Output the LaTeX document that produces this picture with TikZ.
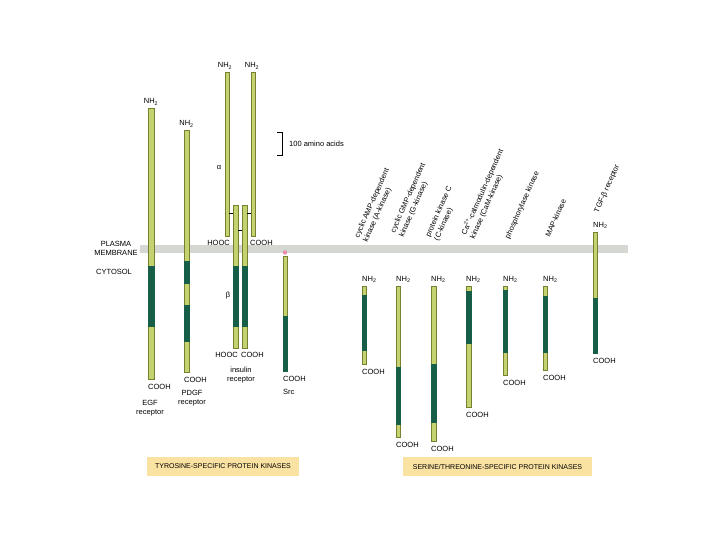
\documentclass[tikz,border=0pt]{standalone}
\usepackage{fontspec}
\setmainfont{Liberation Sans}
\definecolor{lg}{RGB}{197,210,112}
\definecolor{lgo}{RGB}{118,128,48}
\definecolor{dg}{RGB}{22,94,72}
\definecolor{mem}{RGB}{213,215,211}
\definecolor{tag}{RGB}{250,227,162}
\definecolor{pinkm}{RGB}{232,140,170}
\newcommand\kbar[5]{\node[barnode, minimum width={(#3-#2)*1pt}, minimum height={(#5-#4)*1pt}] (#1) at ({(#2+#3)/2},{(#4+#5)/2}) {};}
\newcommand\dseg[3]{\filldraw[dk] (#1.west |- 0,#2) rectangle (#1.east |- 0,#3);}
\begin{document}
\begin{tikzpicture}[x=1pt,y=-1pt,
 barnode/.style={draw=lgo, fill=lg, line width=0.5pt, inner sep=0pt, outer sep=0pt, rectangle},
 dk/.style={fill=dg, draw=dg, line width=0.5pt},
 lab/.style={font=\fontsize{7.5}{8.5}\selectfont, inner sep=0pt},
 rlab/.style={font=\fontsize{7.5}{9.5}\selectfont, inner sep=0pt, rotate=66, anchor=south west, align=left},
 tagbox/.style={fill=tag, minimum height=19pt, inner sep=0pt, font=\fontsize{7}{8}\selectfont},
 bond/.style={line width=0.7pt, black}]
\useasboundingbox (0,0) rectangle (720,540);

% membrane
\fill[mem] (140,245) rectangle (628,253);
\node[lab, align=center] (pm) at (116,248.5) {PLASMA\\MEMBRANE};
\node[lab] (cyt) at (114,272) {CYTOSOL};

% ---------- tyrosine kinases ----------
% EGF receptor
\kbar{egf}{148}{154}{108}{379}
\dseg{egf}{266}{326}
\node[lab, anchor=base] at ([yshift=4pt]egf.north) {NH\textsubscript{2}};
\node[lab, anchor=base west] at ([yshift=-10pt]egf.south west) {COOH};
\node[lab, align=center] (egfl) at (150,408) {EGF\\receptor};

% PDGF receptor
\kbar{pdgf}{184}{189}{130}{372}
\dseg{pdgf}{261}{283}
\dseg{pdgf}{305}{341}
\node[lab, anchor=base] at ([yshift=4pt]pdgf.north) {NH\textsubscript{2}};
\node[lab, anchor=base west] at ([yshift=-10pt]pdgf.south west) {COOH};
\node[lab, align=center] (pdgfl) at (192,398) {PDGF\\receptor};

% insulin receptor
\kbar{a1}{225}{229}{72}{236}
\kbar{a2}{251}{255}{72}{236}
\kbar{b1}{233}{238}{205}{348}
\kbar{b2}{242}{247}{205}{348}
\dseg{b1}{266}{326}
\dseg{b2}{266}{326}
\draw[bond] (a1.east |- 0,213) -- (b1.west |- 0,213);
\draw[bond] (b2.east |- 0,213) -- (a2.west |- 0,213);
\draw[bond] (b1.east |- 0,230) -- (b2.west |- 0,230);
\node[lab, anchor=base] at ([yshift=4pt,xshift=-2pt]a1.north) {NH\textsubscript{2}};
\node[lab, anchor=base] at ([yshift=4pt,xshift=-1pt]a2.north) {NH\textsubscript{2}};
\node[lab, anchor=base east] at ([yshift=-9pt,xshift=1pt]a1.south east) {HOOC};
\node[lab, anchor=base west] at ([yshift=-9pt,xshift=-1pt]a2.south west) {COOH};
\node[lab] (alpha) at (219,168) {α};
\node[lab] (beta) at (228,296) {β};
\node[lab, anchor=base east] at ([yshift=-9pt,xshift=0pt]b1.south east) {HOOC};
\node[lab, anchor=base west] at ([yshift=-9pt,xshift=-1pt]b2.south west) {COOH};
\node[lab, align=center] (insl) at (241,375) {insulin\\receptor};

% Src
\kbar{src}{283}{287}{256}{371}
\dseg{src}{316}{371}
\fill[pinkm] (285,252.5) circle (2.2);
\node[lab, anchor=base west] at ([yshift=-10pt]src.south west) {COOH};
\node[lab, anchor=base west] (srcl) at (283,394) {Src};

% scale bar
\draw[line width=0.6pt] (277,132) -- (282,132) -- (282,155) -- (277,155);
\node[lab, anchor=base west] (scl) at (289,147) {100 amino acids};

% ---------- serine/threonine kinases ----------
\kbar{k1}{362}{366}{286}{364}
\dseg{k1}{295}{350}
\kbar{k2}{396}{400}{286}{437}
\dseg{k2}{367}{424}
\kbar{k3}{431}{436}{286}{441}
\dseg{k3}{364}{422}
\kbar{k4}{466}{471}{286}{407}
\dseg{k4}{291}{343}
\kbar{k5}{503}{507}{286}{375}
\dseg{k5}{290}{352}
\kbar{k6}{543}{547}{286}{370}
\dseg{k6}{296}{352}
\kbar{k7}{593}{597}{232}{353}
\dseg{k7}{298}{353}
\foreach \k in {k1,k2,k3,k4,k5,k6,k7}{
  \node[lab, anchor=base west] at ([yshift=5pt]\k.north west) {NH\textsubscript{2}};
  \node[lab, anchor=base west] at ([yshift=-10pt]\k.south west) {COOH};
}

\node[rlab] (l1) at (369,243) {cyclic AMP-dependent\\kinase (A-kinase)};
\node[rlab] (l2) at (405,238) {cyclic GMP-dependent\\kinase (G-kinase)};
\node[rlab] (l3) at (440,242) {protein kinase C\\(C-kinase)};
\node[rlab] (l4) at (476,240) {Ca\textsuperscript{2+}-calmodulin-dependent\\kinase (CaM-kinase)};
\node[rlab] (l5) at (511,240) {phosphorylase kinase};
\node[rlab] (l6) at (550,238) {MAP-kinase};
\node[rlab] (l7) at (600,214) {TGF-β receptor};

% category boxes
\node[tagbox, minimum width=152pt] (tyr) at (223,466.5) {TYROSINE-SPECIFIC PROTEIN KINASES};
\node[tagbox, minimum width=189pt] (ser) at (497.5,466.5) {SERINE/THREONINE-SPECIFIC PROTEIN KINASES};
\end{tikzpicture}
\end{document}
